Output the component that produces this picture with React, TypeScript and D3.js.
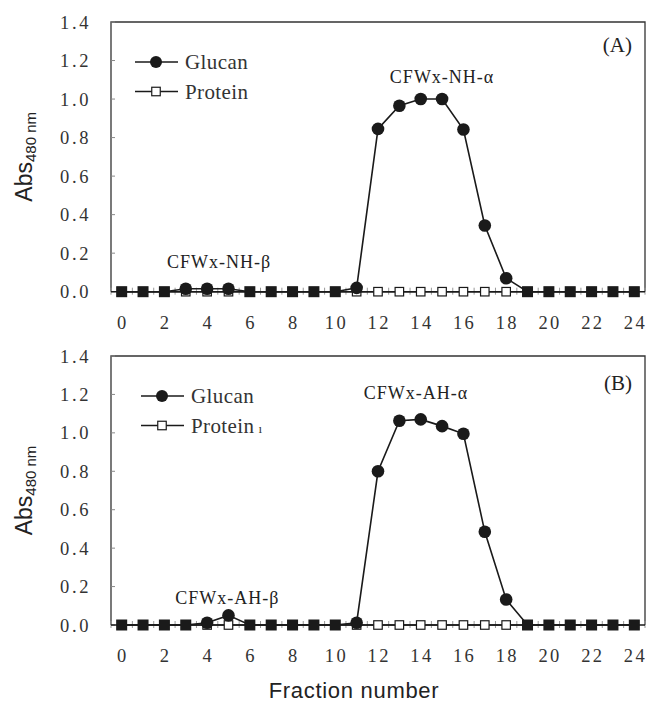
import React from "react";
import * as d3 from "d3";

// ---- data ----
const fractions = [0, 1, 2, 3, 4, 5, 6, 7, 8, 9, 10, 11, 12, 13, 14, 15, 16, 17, 18, 19, 20, 21, 22, 23, 24];
const glucanA = [0, 0, 0, 0.015, 0.015, 0.015, 0, 0, 0, 0, 0, 0.02, 0.845, 0.965, 1.0, 1.0, 0.842, 0.344, 0.07, 0, 0, 0, 0, 0, 0];
const proteinA = [0, 0, 0, 0, 0, 0, 0, 0, 0, 0, 0, 0, 0, 0, 0, 0, 0, 0, 0, 0, 0, 0, 0, 0, 0];
const glucanB = [0, 0, 0, 0, 0.012, 0.05, 0, 0, 0, 0, 0, 0.012, 0.8, 1.063, 1.07, 1.035, 0.995, 0.485, 0.133, 0, 0, 0, 0, 0, 0];
const proteinB = [0, 0, 0, 0, 0, 0, 0, 0, 0, 0, 0, 0, 0, 0, 0, 0, 0, 0, 0, 0, 0, 0, 0, 0, 0];
const xTickValues = [0, 2, 4, 6, 8, 10, 12, 14, 16, 18, 20, 22, 24];
const yTickValues = [0, 0.2, 0.4, 0.6, 0.8, 1.0, 1.2, 1.4];
const seriesNames = ["Glucan", "Protein"];
const panelLetters = ["(A)", "(B)"];
const peakLabelsA = [
  { text: "CFWx-NH-α", x: 15, y: 1.081 },
  { text: "CFWx-NH-β", x: 4.56, y: 0.123 },
];
const peakLabelsB = [
  { text: "CFWx-AH-α", x: 13.78, y: 1.178 },
  { text: "CFWx-AH-β", x: 4.95, y: 0.11 },
];

const W = 647;
const H = 704;
const serif = "'Liberation Serif', 'Times New Roman', serif";
const sans = "'Liberation Sans', Arial, sans-serif";
const ink = "#1a1a1a";

type PanelProps = {
  glucan: number[];
  protein: number[];
  y0: number;
  y14: number;
  letter: string;
  letterBaseline: number;
  peaks: { text: string; x: number; y: number }[];
  legendX: number;
  legendY: number;
  proteinSuffix?: string;
};

const x = d3.scaleLinear().domain([-0.5, 24.5]).range([111, 645]);

function Panel(p: PanelProps) {
  const y = d3.scaleLinear().domain([0, 1.4]).range([p.y0, p.y14]);
  const line = d3
    .line<number>()
    .x((_, i) => x(fractions[i]))
    .y((d) => y(d));
  const minorTicks = d3.range(-0.5, 24.51, 0.5);
  const sq = 11;
  const osq = 8.5;
  return (
    <g>
      {/* frame */}
      <path
        d={`M${x(-0.5)},${y(0)} V${y(1.4)} H${x(24.5)} V${y(0)}`}
        fill="none"
        stroke="#333"
        strokeWidth={1.3}
      />
      {/* y ticks inside */}
      {yTickValues.map((v) => (
        <line key={v} x1={x(-0.5)} x2={x(-0.5) + 4} y1={y(v)} y2={y(v)} stroke="#888" strokeWidth={1} />
      ))}
      {/* x minor ticks */}
      {minorTicks.map((v) => (
        <line key={v} x1={x(v)} x2={x(v)} y1={y(0) - 4} y2={y(0) + 3} stroke="#999" strokeWidth={1} />
      ))}
      {/* x axis */}
      <line x1={x(-0.5)} x2={x(24.5)} y1={y(0)} y2={y(0)} stroke={ink} strokeWidth={1.6} />
      {/* y tick labels */}
      {yTickValues.map((v) => (
        <text
          key={v}
          x={91}
          y={y(v) + 6.5}
          textAnchor="end"
          fontFamily={serif}
          fontSize={18.5}
          letterSpacing={2.6}
          fill="#333"
        >
          {v.toFixed(1)}
        </text>
      ))}
      {/* x tick labels */}
      {xTickValues.map((v) => (
        <text
          key={v}
          x={x(v) + 1.2}
          y={y(0) + 37}
          textAnchor="middle"
          fontFamily={serif}
          fontSize={18.5}
          letterSpacing={2.4}
          fill="#333"
        >
          {v}
        </text>
      ))}
      {/* protein series */}
      <path d={line(p.protein) || ""} fill="none" stroke={ink} strokeWidth={1.5} />
      {p.protein.map((v, i) => (
        <rect
          key={i}
          x={x(fractions[i]) - osq / 2}
          y={y(v) - osq / 2}
          width={osq}
          height={osq}
          fill="#fff"
          stroke={ink}
          strokeWidth={1.2}
        />
      ))}
      {/* glucan series */}
      <path d={line(p.glucan) || ""} fill="none" stroke={ink} strokeWidth={1.6} />
      {p.glucan.map((v, i) =>
        v > 0 ? (
          <circle key={i} cx={x(fractions[i])} cy={y(v)} r={6.3} fill={ink} />
        ) : (
          <rect key={i} x={x(fractions[i]) - sq / 2} y={y(v) - sq / 2} width={sq} height={sq} fill={ink} />
        )
      )}
      {/* peak labels */}
      {p.peaks.map((a) => (
        <text
          key={a.text}
          x={x(a.x)}
          y={y(a.y)}
          textAnchor="middle"
          fontFamily={serif}
          fontSize={18}
          letterSpacing={1}
          fill="#222"
        >
          {a.text}
        </text>
      ))}
      {/* panel letter */}
      <text x={632} y={p.letterBaseline} textAnchor="end" fontFamily={serif} fontSize={21} fill="#222">
        {p.letter}
      </text>
      {/* legend */}
      <g>
        <line x1={p.legendX} x2={p.legendX + 43} y1={p.legendY} y2={p.legendY} stroke={ink} strokeWidth={1.5} />
        <circle cx={p.legendX + 21} cy={p.legendY} r={6} fill={ink} />
        <text x={p.legendX + 50} y={p.legendY + 7} fontFamily={serif} fontSize={21} letterSpacing={0.4} fill="#333">
          {seriesNames[0]}
        </text>
        <line
          x1={p.legendX}
          x2={p.legendX + 43}
          y1={p.legendY + 29.5}
          y2={p.legendY + 29.5}
          stroke={ink}
          strokeWidth={1.5}
        />
        <rect
          x={p.legendX + 21 - osq / 2}
          y={p.legendY + 29.5 - osq / 2}
          width={osq}
          height={osq}
          fill="#fff"
          stroke={ink}
          strokeWidth={1.2}
        />
        <text x={p.legendX + 50} y={p.legendY + 36.5} fontFamily={serif} fontSize={21} letterSpacing={0.4} fill="#333">
          {seriesNames[1]}
          {p.proteinSuffix ? <tspan fontSize={13} dx={4}>{p.proteinSuffix}</tspan> : null}
        </text>
      </g>
      {/* y axis title */}
      <text
        transform={`translate(32,${(p.y0 + p.y14) / 2}) rotate(-90)`}
        textAnchor="middle"
        fontFamily={sans}
        fontSize={23}
        fill="#222"
      >
        Abs
        <tspan fontSize={15} dy={4}>
          480 nm
        </tspan>
      </text>
    </g>
  );
}

export default function App() {
  return (
    <svg
      width={W}
      height={H}
      viewBox={`0 0 ${W} ${H}`}
      style={{ position: "absolute", left: 0, top: 0, background: "#fff" }}
    >
      <rect width={W} height={H} fill="#fff" />
      <Panel
        glucan={glucanA}
        protein={proteinA}
        y0={291.7}
        y14={22}
        letter={panelLetters[0]}
        letterBaseline={52}
        peaks={peakLabelsA}
        legendX={135}
        legendY={62}
      />
      <Panel
        glucan={glucanB}
        protein={proteinB}
        y0={625}
        y14={356}
        letter={panelLetters[1]}
        letterBaseline={390}
        peaks={peakLabelsB}
        legendX={141}
        legendY={396}
        proteinSuffix="ı"
      />
      <text x={354} y={698} textAnchor="middle" fontFamily={sans} fontSize={22} letterSpacing={0.7} fill="#222">
        Fraction number
      </text>
    </svg>
  );
}
